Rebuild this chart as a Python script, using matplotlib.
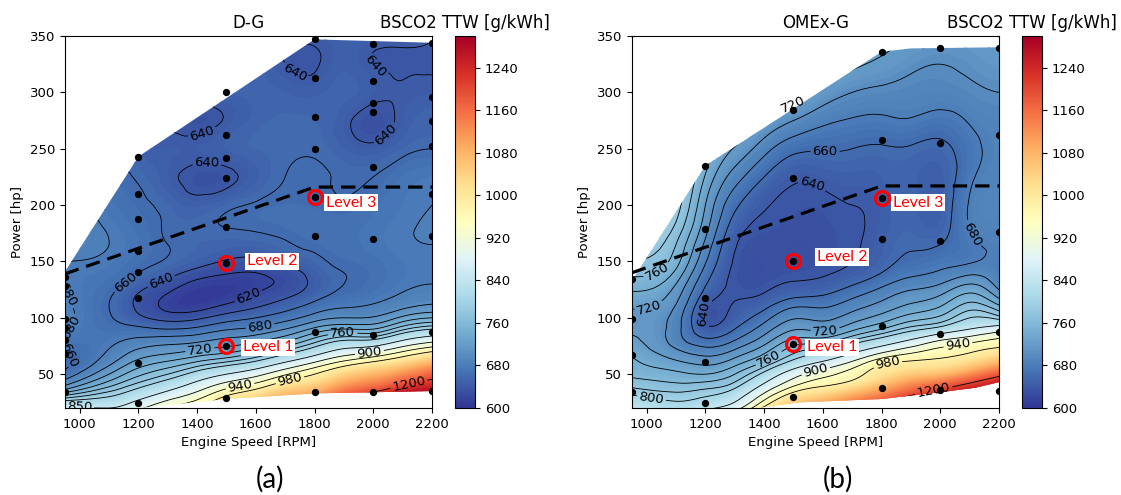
import numpy as np
import matplotlib

matplotlib.use("Agg")
import matplotlib.pyplot as plt
import matplotlib.tri as mtri
from matplotlib.cm import ScalarMappable
from matplotlib.colors import Normalize
from matplotlib.patches import Polygon

RPM = [950, 1100, 1200, 1300, 1400, 1500, 1600, 1700, 1800, 1900, 2000, 2100, 2200]
POWER = [10, 20, 30, 40, 50, 60, 70, 80, 90, 100, 110, 120, 130, 140, 150, 165, 180, 200, 225, 250, 275, 300, 325, 350]

# one list per RPM value, in POWER order
DG_BSCO2 = [
    [960, 860, 770, 700, 668, 655, 662, 674, 683, 686, 684, 681, 678, 676, 680, 690, 695, 690, 685, 680, 675, 670, 665, 660],
    [930, 850, 800, 755, 720, 695, 682, 675, 668, 662, 660, 662, 667, 672, 676, 680, 678, 672, 668, 665, 660, 660, 660, 660],
    [940, 890, 835, 790, 755, 728, 705, 685, 665, 645, 636, 638, 650, 660, 666, 670, 668, 664, 658, 648, 642, 645, 650, 650],
    [980, 940, 880, 825, 780, 745, 715, 690, 660, 632, 615, 618, 632, 648, 658, 660, 658, 655, 645, 645, 638, 645, 648, 650],
    [1040, 980, 925, 870, 815, 765, 725, 695, 665, 636, 612, 607, 614, 632, 648, 655, 656, 648, 634, 645, 634, 648, 650, 650],
    [1100, 1040, 985, 920, 850, 785, 735, 705, 678, 650, 625, 610, 610, 622, 638, 652, 660, 655, 636, 650, 642, 650, 650, 650],
    [1150, 1090, 1030, 955, 885, 810, 755, 715, 685, 660, 638, 622, 615, 620, 635, 652, 662, 662, 648, 655, 652, 652, 650, 650],
    [1200, 1140, 1085, 1010, 935, 855, 785, 735, 700, 672, 652, 635, 625, 630, 645, 658, 665, 665, 660, 658, 656, 650, 640, 645],
    [1250, 1190, 1120, 1045, 980, 905, 825, 770, 725, 690, 668, 652, 645, 648, 655, 664, 668, 664, 662, 658, 655, 648, 638, 645],
    [1290, 1260, 1190, 1110, 1035, 955, 870, 800, 740, 700, 678, 665, 660, 660, 664, 668, 668, 662, 658, 650, 645, 652, 648, 648],
    [1295, 1295, 1240, 1150, 1075, 990, 895, 805, 740, 702, 683, 672, 667, 666, 668, 672, 672, 668, 660, 645, 632, 645, 640, 648],
    [1295, 1295, 1285, 1200, 1120, 1030, 940, 850, 775, 725, 695, 682, 676, 674, 675, 678, 678, 675, 670, 655, 645, 642, 638, 645],
    [1295, 1295, 1295, 1240, 1170, 1080, 980, 885, 800, 740, 705, 688, 680, 678, 678, 680, 682, 680, 675, 660, 652, 645, 638, 642],
]

OMEX_BSCO2 = [
    [900, 840, 805, 775, 755, 745, 735, 725, 715, 715, 722, 735, 750, 765, 778, 795, 805, 810, 815, 820, 820, 820, 820, 820],
    [880, 820, 790, 765, 745, 725, 705, 690, 688, 690, 698, 708, 720, 735, 748, 760, 775, 790, 800, 810, 815, 820, 820, 820],
    [920, 840, 800, 770, 740, 715, 690, 665, 645, 638, 642, 652, 662, 672, 682, 695, 708, 720, 738, 755, 770, 785, 800, 810],
    [980, 880, 830, 790, 760, 732, 705, 680, 660, 648, 642, 638, 636, 636, 638, 642, 650, 665, 690, 718, 745, 770, 790, 800],
    [1100, 990, 920, 860, 810, 765, 735, 710, 690, 672, 655, 642, 634, 630, 630, 632, 636, 642, 660, 688, 720, 750, 775, 790],
    [1200, 1080, 1010, 935, 880, 815, 775, 745, 718, 698, 678, 655, 642, 635, 632, 630, 632, 636, 643, 666, 700, 735, 765, 790],
    [1250, 1130, 1050, 975, 925, 860, 800, 750, 715, 695, 678, 660, 645, 638, 634, 632, 633, 636, 645, 662, 685, 715, 745, 770],
    [1295, 1180, 1100, 1010, 960, 910, 840, 780, 735, 710, 692, 675, 658, 645, 640, 638, 638, 640, 648, 660, 678, 700, 725, 745],
    [1295, 1240, 1150, 1070, 1010, 970, 890, 815, 760, 728, 708, 692, 675, 660, 652, 648, 646, 646, 650, 658, 676, 695, 715, 730],
    [1295, 1290, 1210, 1130, 1050, 990, 930, 855, 790, 750, 725, 708, 690, 675, 665, 658, 654, 652, 652, 658, 678, 692, 705, 720],
    [1295, 1295, 1250, 1170, 1070, 1000, 955, 900, 815, 765, 740, 720, 700, 683, 672, 660, 652, 648, 648, 655, 672, 690, 700, 715],
    [1295, 1295, 1290, 1220, 1120, 1030, 975, 925, 850, 800, 770, 745, 720, 695, 678, 675, 680, 682, 675, 672, 682, 695, 705, 715],
    [1295, 1295, 1295, 1270, 1180, 1080, 1000, 950, 880, 790, 745, 712, 690, 682, 682, 685, 688, 690, 688, 686, 690, 700, 712, 720],
]

# outline of the measured region (outside it the map is blank)
DG_ENVELOPE_RPM = [950, 1200, 1800, 2200, 2200, 1800, 1500, 1200, 1000, 950]
DG_ENVELOPE_HP = [141, 243, 347, 344, 35, 33, 28, 20, 0, 0]
OMEX_ENVELOPE_RPM = [950, 1200, 1800, 1900, 2200, 2200, 2120, 2000, 1800, 1520, 1376, 1200, 950]
OMEX_ENVELOPE_HP = [133, 235, 336, 339, 340, 43, 38, 34, 28, 25, 20, 14, 0]

# measured operating points
DG_POINT_RPM = [950] * 7 + [1200] * 8 + [1500] * 8 + [1800] * 8 + [2000] * 8 + [2200] * 8
DG_POINT_HP = [34, 68, 80, 91, 99, 128, 136,
               24, 60, 118, 141, 159, 188, 210, 243,
               29, 75, 149, 181, 224, 242, 262, 300,
               34, 87, 173, 207, 250, 278, 313, 347,
               34, 85, 170, 234, 283, 291, 310, 343,
               35, 87, 173, 210, 252, 275, 296, 344]
OMEX_POINT_RPM = [950] * 4 + [1200] * 5 + [1500] * 5 + [1800] * 6 + [2000] * 5 + [2200] * 5
OMEX_POINT_HP = [34, 67, 99, 134,
                 24, 61, 118, 179, 235,
                 30, 77, 150, 224, 284,
                 38, 93, 170, 206, 258, 336,
                 36, 86, 168, 255, 339,
                 35, 87, 176, 262, 339]

LEVEL_NAMES = ["Level 1", "Level 2", "Level 3"]
DG_LEVEL_RPM = [1500, 1500, 1800]
DG_LEVEL_HP = [75, 149, 207]
OMEX_LEVEL_RPM = [1500, 1500, 1800]
OMEX_LEVEL_HP = [77, 150, 206]

DG_LIMIT_RPM = [950, 1800, 2200]
DG_LIMIT_HP = [139, 216, 216]
OMEX_LIMIT_RPM = [950, 1800, 2200]
OMEX_LIMIT_HP = [140, 217, 217]

# where the contour labels sit: (level, rpm, hp)
DG_LABELS = [(620, 1570, 122), (640, 1275, 134), (660, 1150, 134), (680, 1614, 93),
             (720, 1411, 69), (760, 1896, 86), (900, 1987, 69), (940, 1547, 38),
             (980, 1716, 45), (1200, 2123, 39), (640, 1405, 272), (640, 1434, 232),
             (640, 1733, 318), (640, 1990, 318), (640, 2045, 262), (680, 985, 125),
             (680, 995, 86), (660, 972, 70), (850, 1000, 23)]
OMEX_LABELS = [(720, 1505, 284), (660, 1608, 249), (640, 1563, 218), (640, 1209, 103),
               (720, 1005, 111), (760, 1018, 150), (720, 1608, 88), (760, 1410, 67),
               (900, 1573, 56), (800, 1022, 39), (980, 1822, 58), (940, 2060, 76),
               (1200, 1976, 38), (680, 2125, 176)]

CMAP = "RdYlBu_r"
NORM = Normalize(600, 1300)
LINE_LEVELS = list(range(600, 801, 20)) + [850, 900, 940, 980, 1200]


def grid_triangles(nx: int, ny: int) -> np.ndarray:
    tris = []
    for j in range(ny - 1):
        for i in range(nx - 1):
            a = j * nx + i
            tris.append([a, a + 1, a + nx + 1])
            tris.append([a, a + nx + 1, a + nx])
    return np.array(tris)


def draw_map(ax, cax, values, env_rpm, env_hp, pts_rpm, pts_hp, lvl_rpm, lvl_hp,
             lim_rpm, lim_hp, labels, title, text_dx):
    x = np.tile(np.array(RPM, float), len(POWER))
    y = np.repeat(np.array(POWER, float), len(RPM))
    z = np.array(values, float).T.ravel()
    tri = mtri.Triangulation(x, y, grid_triangles(len(RPM), len(POWER)))
    tri_f, z_f = mtri.UniformTriRefiner(tri).refine_field(z, subdiv=3)

    clip = Polygon(np.column_stack([env_rpm, env_hp]), closed=True, transform=ax.transData)
    cf = ax.tricontourf(tri_f, z_f, levels=np.arange(600, 1301, 5), cmap=CMAP, norm=NORM, extend="both")
    cf.set_clip_path(clip)
    # one contour set per level so that each label lands on its own line
    for lev in LINE_LEVELS:
        cs = ax.tricontour(tri_f, z_f, levels=[lev], colors="k", linewidths=0.6)
        cs.set_clip_path(clip)
        spots = [(lx, ly) for l, lx, ly in labels if l == lev]
        if spots and len(cs.allsegs[0]):
            ax.clabel(cs, manual=spots, inline=True, inline_spacing=2, fmt="%d", fontsize=9.5)

    ax.plot(lim_rpm, lim_hp, color="k", lw=2.3, dashes=(4.5, 2.5), zorder=4)
    ax.scatter(pts_rpm, pts_hp, s=18, color="k", zorder=5)
    ax.plot(lvl_rpm, lvl_hp, ls="none", marker="o", ms=10, mfc="none", mec="#ff0000", mew=2.3, zorder=6)
    for name, rx, ry in zip(LEVEL_NAMES, lvl_rpm, lvl_hp):
        dx, dy = text_dx[name]
        ax.text(rx + dx, ry + dy, name, color="#ff0000", fontsize=11.5, family="Lato",
                ha="left", va="center", zorder=7,
                bbox=dict(facecolor="white", edgecolor="none", pad=1.2))

    ax.set_xlim(950, 2200)
    ax.set_ylim(20, 350)
    ax.set_xticks(range(1000, 2201, 200))
    ax.set_yticks(range(50, 351, 50))
    ax.tick_params(labelsize=9.5)
    ax.set_xlabel("Engine Speed [RPM]", fontsize=9.5)
    ax.set_ylabel("Power [hp]", fontsize=9.5)
    ax.set_title(title, fontsize=12)

    cb = plt.colorbar(ScalarMappable(norm=NORM, cmap=CMAP), cax=cax, ticks=range(600, 1241, 80))
    cb.ax.tick_params(labelsize=9.5)
    cb.outline.set_linewidth(0.8)
    cax.set_title("BSCO2 TTW [g/kWh]", fontsize=12)


fig = plt.figure(figsize=(11.21, 4.95), dpi=100)
ax_a = fig.add_axes([65 / 1121, 87 / 495, 367 / 1121, 372 / 495])
cax_a = fig.add_axes([455 / 1121, 87 / 495, 20 / 1121, 372 / 495])
ax_b = fig.add_axes([632 / 1121, 87 / 495, 367 / 1121, 372 / 495])
cax_b = fig.add_axes([1022 / 1121, 87 / 495, 20 / 1121, 372 / 495])

draw_map(ax_a, cax_a, DG_BSCO2, DG_ENVELOPE_RPM, DG_ENVELOPE_HP, DG_POINT_RPM, DG_POINT_HP,
         DG_LEVEL_RPM, DG_LEVEL_HP, DG_LIMIT_RPM, DG_LIMIT_HP, DG_LABELS, "D-G",
         {"Level 1": (55, -1), "Level 2": (70, 1), "Level 3": (38, -5)})
draw_map(ax_b, cax_b, OMEX_BSCO2, OMEX_ENVELOPE_RPM, OMEX_ENVELOPE_HP, OMEX_POINT_RPM, OMEX_POINT_HP,
         OMEX_LEVEL_RPM, OMEX_LEVEL_HP, OMEX_LIMIT_RPM, OMEX_LIMIT_HP, OMEX_LABELS, "OMEx-G",
         {"Level 1": (46, -3), "Level 2": (80, 4), "Level 3": (39, -4)})

fig.text(270 / 1121, 1 - 479 / 495, "(a)", fontsize=20, family="Lato", ha="center", va="center")
fig.text(838 / 1121, 1 - 479 / 495, "(b)", fontsize=20, family="Lato", ha="center", va="center")

fig.savefig("out.png", dpi=100)
